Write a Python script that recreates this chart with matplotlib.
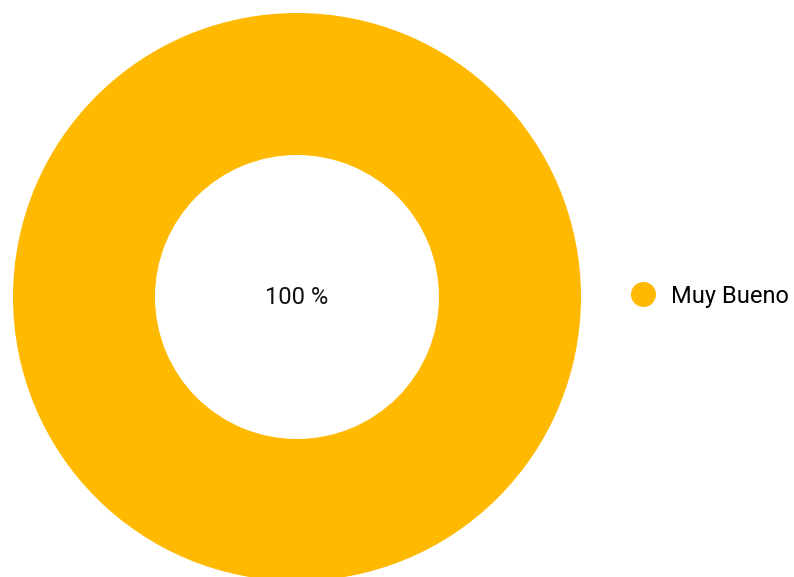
import matplotlib.pyplot as plt
from matplotlib.lines import Line2D

plt.rcParams['font.family'] = ['Roboto', 'DejaVu Sans']

labels = ["Muy Bueno"]
values = [100]
colors = ["#FFB900"]

fig = plt.figure(figsize=(7.94, 5.77), dpi=100)
ax = fig.add_axes([0, 0, 1, 1])

# donut, everything in pixel units
ax.pie(values, colors=colors, center=(297, 297), radius=284,
       startangle=90, counterclock=False,
       wedgeprops=dict(width=142, edgecolor="none"))
ax.set_xlim(0, 794)
ax.set_ylim(577, 0)
ax.set_aspect("equal")
ax.axis("off")

total = sum(values)
ax.text(297, 298, f"{values[0] / total * 100:.0f} %", ha="center", va="center",
        fontsize=17, color="#111111")

handles = [Line2D([], [], marker="o", linestyle="none", markersize=18,
                  markerfacecolor=c, markeredgecolor="none") for c in colors]
ax.legend(handles, labels, loc="center left", bbox_to_anchor=(0.780, 0.487),
          frameon=False, fontsize=17, handletextpad=0.57, borderaxespad=0,
          handlelength=1.2)

fig.savefig("out.png", dpi=100)
